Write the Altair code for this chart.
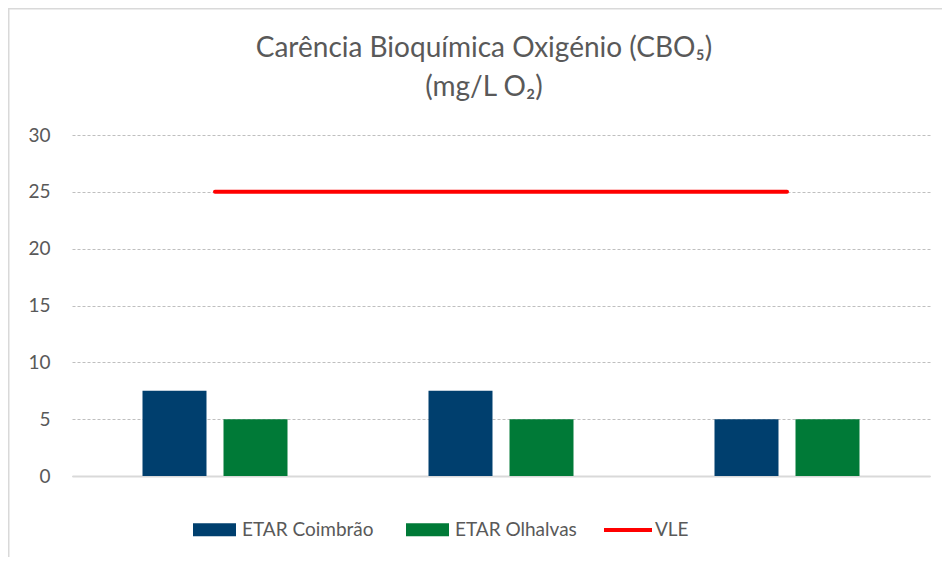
import altair as alt
import pandas as pd

# ---- data ----
categorias = ["1ª campanha", "2ª campanha", "3ª campanha"]
series_barras = ["ETAR Coimbrão", "ETAR Olhalvas"]
etar_coimbrao = [7.5, 7.5, 5.0]
etar_olhalvas = [5.0, 5.0, 5.0]
serie_linha = "VLE"
vle = [25, 25, 25]
y_ticks = [0, 5, 10, 15, 20, 25, 30]
titulo = ["Carência Bioquímica Oxigénio (CBO₅)", "(mg/L O₂)"]

bars_df = pd.DataFrame({
    "categoria": categorias * 2,
    "serie": [series_barras[0]] * len(categorias) + [series_barras[1]] * len(categorias),
    "valor": etar_coimbrao + etar_olhalvas,
})
line_df = pd.DataFrame({"categoria": categorias, "serie": serie_linha, "valor": vle})

FONT = "Lato"
GRAY = "#595959"
BORDER = "#d9d9d9"

x_scale = alt.Scale(domain=categorias, paddingInner=0.493, paddingOuter=0.2465)
y_scale = alt.Scale(domain=[0, 30], nice=False)

bars = alt.Chart(bars_df).mark_bar().encode(
    x=alt.X("categoria:N", scale=x_scale, sort=categorias,
            axis=alt.Axis(labels=False, ticks=False, title=None, domain=True,
                          domainColor=BORDER, domainWidth=2, grid=False)),
    xOffset=alt.XOffset("serie:N", sort=series_barras,
                        scale=alt.Scale(domain=series_barras, paddingInner=0.21, paddingOuter=0)),
    y=alt.Y("valor:Q", scale=y_scale,
            axis=alt.Axis(values=y_ticks, title=None, grid=True, gridDash=[3, 2],
                          gridColor="#bfbfbf", gridWidth=1, domain=False, ticks=False,
                          labelPadding=22, labelFont=FONT, labelFontSize=19,
                          labelColor=GRAY)),
    color=alt.Color("serie:N", sort=series_barras,
                    scale=alt.Scale(domain=series_barras, range=["#003f6e", "#007a37"]),
                    legend=alt.Legend(orient="none", legendX=121, legendY=373,
                                      direction="horizontal", title=None,
                                      symbolType="M-1,-0.3H1V0.3H-1Z", symbolSize=1849,
                                      symbolStrokeWidth=0, labelOffset=6, columnPadding=32,
                                      labelFont=FONT, labelFontSize=19, labelColor=GRAY,
                                      labelLimit=300)),
)

line = alt.Chart(line_df).mark_line(strokeWidth=4, strokeCap="round").encode(
    x=alt.X("categoria:N", scale=x_scale, sort=categorias),
    y=alt.Y("valor:Q", scale=y_scale),
    stroke=alt.Stroke("serie:N",
                      scale=alt.Scale(domain=[serie_linha], range=["#ff0000"]),
                      legend=alt.Legend(orient="none", legendX=530, legendY=369,
                                        direction="horizontal", title=None,
                                        symbolType="stroke", symbolSize=2304,
                                        symbolStrokeWidth=4, labelOffset=1,
                                        labelFont=FONT, labelFontSize=19, labelColor=GRAY)),
)

frame_df = alt.Data(values=[{"k": 1}])
border_left = alt.Chart(frame_df).mark_rule(color=BORDER, strokeWidth=1.5).encode(
    x=alt.value(-63.25), y=alt.value(-127), y2=alt.value(422))
border_top = alt.Chart(frame_df).mark_rule(color=BORDER, strokeWidth=1.5).encode(
    x=alt.value(-64), x2=alt.value(870), y=alt.value(-126.25))

chart = alt.layer(border_left, border_top, bars, line).properties(
    width=858,
    height=341,
    padding={"left": 64, "top": 127, "right": 12, "bottom": 81},
    autosize=alt.AutoSizeParams(type="none"),
    title=alt.TitleParams(text=titulo, font=FONT, fontSize=28, fontWeight="normal",
                          color=GRAY, anchor="middle", frame="group", dx=-17,
                          lineHeight=39, offset=-95),
).configure_view(stroke=None)

chart.save("out.html", embed_options={"renderer": "svg", "actions": False})
